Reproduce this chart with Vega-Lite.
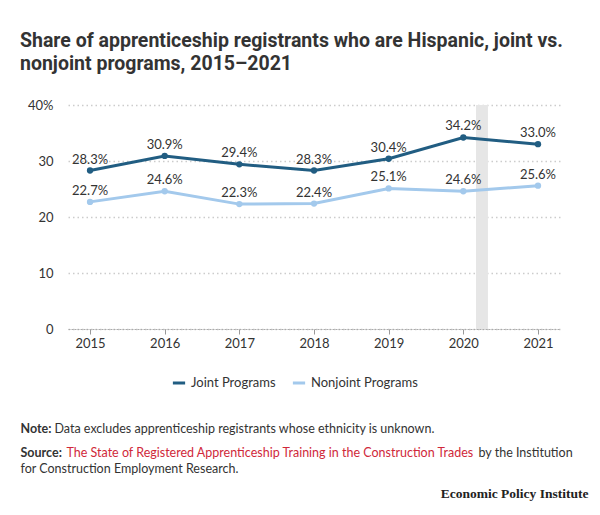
{
  "$schema": "https://vega.github.io/schema/vega-lite/v6.json",
  "width": 492,
  "height": 224,
  "autosize": {"type": "none"},
  "padding": {"left": 68, "top": 105, "right": 40, "bottom": 186},
  "background": "white",
  "config": {
    "font": "Lato",
    "view": {"stroke": null},
    "axis": {"labelFont": "Lato", "titleFont": "Lato"}
  },
  "title": {
    "text": ["Share of apprenticeship registrants who are Hispanic, joint vs.", "nonjoint programs, 2015–2021"],
    "anchor": "start",
    "frame": "group",
    "dx": -48,
    "offset": 25,
    "font": "Roboto",
    "fontSize": 19.5,
    "fontWeight": "bold",
    "color": "#333333",
    "lineHeight": 23
  },
  "datasets": {
    "series": [
      {"year": 2015, "share": 0.283, "program": "Joint Programs"},
      {"year": 2016, "share": 0.309, "program": "Joint Programs"},
      {"year": 2017, "share": 0.294, "program": "Joint Programs"},
      {"year": 2018, "share": 0.283, "program": "Joint Programs"},
      {"year": 2019, "share": 0.304, "program": "Joint Programs"},
      {"year": 2020, "share": 0.342, "program": "Joint Programs"},
      {"year": 2021, "share": 0.330, "program": "Joint Programs"},
      {"year": 2015, "share": 0.227, "program": "Nonjoint Programs"},
      {"year": 2016, "share": 0.246, "program": "Nonjoint Programs"},
      {"year": 2017, "share": 0.223, "program": "Nonjoint Programs"},
      {"year": 2018, "share": 0.224, "program": "Nonjoint Programs"},
      {"year": 2019, "share": 0.251, "program": "Nonjoint Programs"},
      {"year": 2020, "share": 0.246, "program": "Nonjoint Programs"},
      {"year": 2021, "share": 0.256, "program": "Nonjoint Programs"}
    ],
    "recession": [
      {"start": 2020.17, "end": 2020.33}
    ]
  },
  "resolve": {"scale": {"x": "independent", "y": "independent"}},
  "layer": [
    {
      "data": {"name": "recession"},
      "mark": {"type": "rect", "color": "#e6e6e6"},
      "encoding": {
        "x": {
          "field": "start", "type": "quantitative",
          "scale": {"domain": [2014.705, 2021.295], "nice": false, "zero": false},
          "axis": {
            "orient": "bottom", "labels": false, "ticks": false, "domain": false, "grid": false,
            "title": "Data excludes apprenticeship registrants whose ethnicity is unknown.",
            "titleX": -14, "titleY": 103, "titleAlign": "left", "titleAnchor": null, "titleBaseline": "alphabetic",
            "titleFontSize": 12.5, "titleFontWeight": "normal", "titleColor": "#333333"
          }
        },
        "x2": {"field": "end"}
      }
    },
    {
      "data": {"name": "series"},
      "mark": {"type": "line", "strokeWidth": 3},
      "encoding": {
        "x": {
          "field": "year", "type": "quantitative",
          "scale": {"domain": [2014.705, 2021.295], "nice": false, "zero": false},
          "axis": {
            "orient": "bottom", "values": [2015, 2016, 2017, 2018, 2019, 2020, 2021], "format": "d",
            "grid": false, "ticks": true, "tickSize": 5, "tickColor": "#999999",
            "domain": true, "domainColor": "#aaaaaa", "domainDash": [2, 1], "domainWidth": 1.2,
            "labelFontSize": 13, "labelColor": "#333333", "labelPadding": 3,
            "title": ["Note:", "Source:"],
            "titleX": -48, "titleY": 103, "titleAlign": "left", "titleAnchor": null, "titleBaseline": "alphabetic",
            "titleFontSize": 12.5, "titleFontWeight": "bold", "titleColor": "#333333", "titleLineHeight": 24
          }
        },
        "y": {
          "field": "share", "type": "quantitative",
          "scale": {"domain": [0, 0.4], "nice": false},
          "axis": {
            "orient": "left", "values": [0, 0.1, 0.2, 0.3, 0.4],
            "labelExpr": "datum.value >= 0.4 ? '40%' : format(datum.value * 100, 'd')",
            "grid": true, "gridColor": "#cccccc", "gridDash": [1.5, 3], "gridWidth": 1.3,
            "ticks": false, "domain": false,
            "labelFontSize": 13, "labelColor": "#333333", "labelPadding": 15,
            "title": null
          }
        },
        "color": {
          "field": "program", "type": "nominal",
          "scale": {"domain": ["Joint Programs", "Nonjoint Programs"], "range": ["#215d82", "#a3c9ec"]},
          "legend": {
            "orient": "none", "legendX": 103, "legendY": 270, "direction": "horizontal",
            "title": null, "symbolType": "stroke", "symbolSize": 150, "symbolStrokeWidth": 3,
            "labelFontSize": 13, "labelColor": "#333333", "columnPadding": 10, "labelOffset": 4
          }
        }
      }
    },
    {
      "data": {"name": "series"},
      "mark": {"type": "point", "filled": true, "size": 40, "opacity": 1},
      "encoding": {
        "x": {
          "field": "year", "type": "quantitative",
          "scale": {"domain": [2014.705, 2021.295], "nice": false, "zero": false},
          "axis": {
            "orient": "bottom", "labels": false, "ticks": false, "domain": false, "grid": false,
            "title": "The State of Registered Apprenticeship Training in the Construction Trades",
            "titleX": -2, "titleY": 127, "titleAlign": "left", "titleAnchor": null, "titleBaseline": "alphabetic",
            "titleFontSize": 12.5, "titleFontWeight": "normal", "titleColor": "#d0283a"
          }
        },
        "y": {
          "field": "share", "type": "quantitative",
          "scale": {"domain": [0, 0.4], "nice": false},
          "axis": {
            "orient": "left", "labels": false, "ticks": false, "domain": false, "grid": false,
            "title": "for Construction Employment Research.",
            "titleX": -48, "titleY": 367, "titleAngle": 0, "titleAlign": "left", "titleAnchor": null, "titleBaseline": "alphabetic",
            "titleFontSize": 12.5, "titleFontWeight": "normal", "titleColor": "#333333"
          }
        },
        "color": {"field": "program", "type": "nominal"}
      }
    },
    {
      "data": {"name": "series"},
      "mark": {"type": "text", "dy": -11, "fontSize": 13, "color": "#333333"},
      "encoding": {
        "x": {
          "field": "year", "type": "quantitative",
          "scale": {"domain": [2014.705, 2021.295], "nice": false, "zero": false},
          "axis": {
            "orient": "bottom", "labels": false, "ticks": false, "domain": false, "grid": false,
            "title": "by the Institution",
            "titleX": 410, "titleY": 127, "titleAlign": "left", "titleAnchor": null, "titleBaseline": "alphabetic",
            "titleFontSize": 12.5, "titleFontWeight": "normal", "titleColor": "#333333"
          }
        },
        "y": {
          "field": "share", "type": "quantitative",
          "scale": {"domain": [0, 0.4], "nice": false},
          "axis": {
            "orient": "left", "labels": false, "ticks": false, "domain": false, "grid": false,
            "title": "Economic Policy Institute",
            "titleX": 520, "titleY": 392, "titleAngle": 0, "titleAlign": "right", "titleAnchor": null, "titleBaseline": "alphabetic",
            "titleFont": "Liberation Serif", "titleFontSize": 13.5, "titleFontWeight": "bold", "titleColor": "#222222"
          }
        },
        "text": {"field": "share", "type": "quantitative", "format": ".1%"}
      }
    }
  ]
}
